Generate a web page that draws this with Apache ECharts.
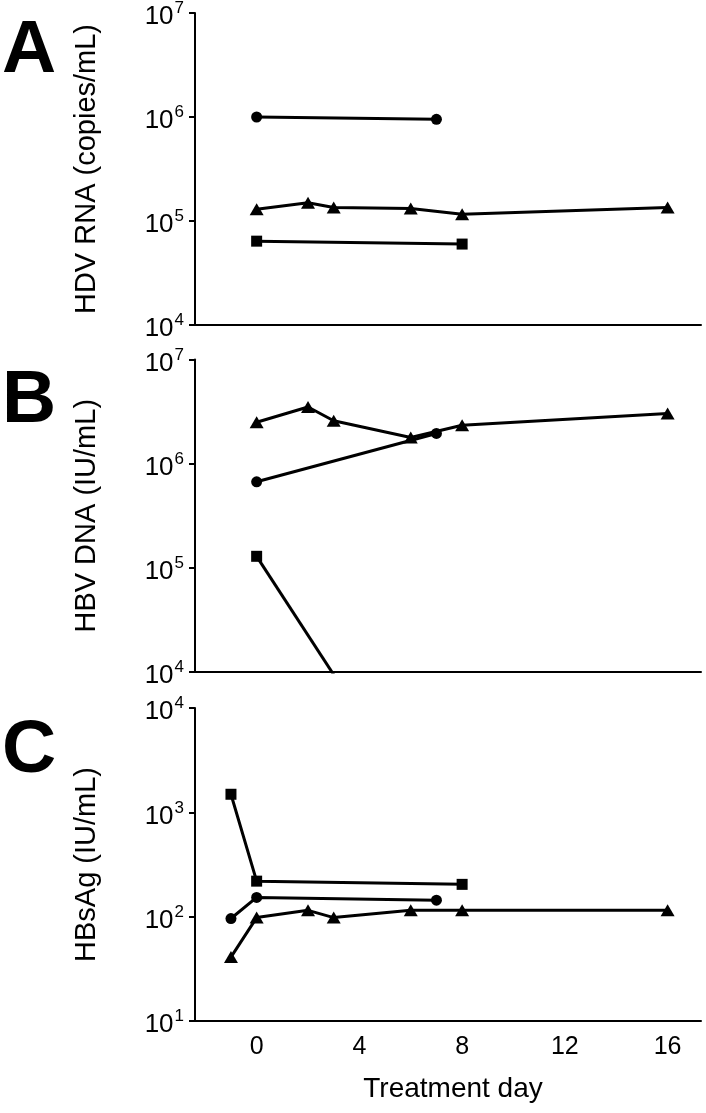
<!DOCTYPE html>
<html>
<head>
<meta charset="utf-8">
<script src="https://cdn.jsdelivr.net/npm/echarts@6/dist/echarts.min.js"></script>
<style>
html,body{margin:0;padding:0;background:#fff;}
#chart{width:706px;height:1113px;}
</style>
</head>
<body>
<div id="chart"></div>
<script>
// ---- Data (Treatment day, value) ----
const xTicks = [0, 4, 8, 12, 16];

// Panel A: HDV RNA (copies/mL)
const aCircleDays = [0, 7];
const aCircleVals = [1.0e6, 9.5e5];
const aTriDays = [0, 2, 3, 6, 8, 16];
const aTriVals = [1.3e5, 1.5e5, 1.35e5, 1.32e5, 1.16e5, 1.35e5];
const aSquareDays = [0, 8];
const aSquareVals = [6.4e4, 6.0e4];

// Panel B: HBV DNA (IU/mL)
const bTriDays = [0, 2, 3, 6, 8, 16];
const bTriVals = [2.5e6, 3.5e6, 2.58e6, 1.78e6, 2.34e6, 3.03e6];
const bCircleDays = [0, 7];
const bCircleVals = [6.7e5, 1.95e6];
const bSquareDays = [0, 8];
const bSquareVals = [1.29e5, 120];

// Panel C: HBsAg (IU/mL)
const cSquareDays = [-1, 0, 8];
const cSquareVals = [1490, 219, 204];
const cCircleDays = [-1, 0, 7];
const cCircleVals = [96, 153, 144];
const cTriDays = [-1, 0, 2, 3, 6, 8, 16];
const cTriVals = [41, 98, 115, 98, 115, 115, 115];

const panelTitles = ['HDV RNA (copies/mL)', 'HBV DNA (IU/mL)', 'HBsAg (IU/mL)'];
const panelLetters = ['A', 'B', 'C'];
const yRanges = [[1e4, 1e7], [1e4, 1e7], [1e1, 1e4]];

function pairs(days, vals) { return days.map((d, i) => [d, vals[i]]); }

const FONT = 'Liberation Sans, Arial, sans-serif';
const grids = [
  {left: 195, right: 5, top: 13, height: 312},
  {left: 195, right: 5, top: 359.5, height: 312.5},
  {left: 195, right: 5, top: 708, height: 313}
];

const xAxes = grids.map((g, i) => ({
  type: 'value', gridIndex: i, min: -2.4, max: 17.3,
  splitLine: {show: false},
  axisLine: {onZero: false, lineStyle: {color: '#000', width: 2}},
  axisTick: {show: false},
  axisLabel: i === 2 ? {
    customValues: xTicks, color: '#000', fontSize: 25, fontFamily: FONT, margin: 14
  } : {show: false},
  name: i === 2 ? 'Treatment day' : '',
  nameLocation: 'middle', nameGap: 54,
  nameTextStyle: {color: '#000', fontSize: 28, fontFamily: FONT, padding: [0, 0, 0, 10]}
}));

const yAxes = grids.map((g, i) => ({
  type: 'log', logBase: 10, gridIndex: i, min: yRanges[i][0], max: yRanges[i][1],
  splitLine: {show: false}, minorTick: {show: false},
  axisLine: {show: true, onZero: false, lineStyle: {color: '#000', width: 2}},
  axisTick: {show: true, inside: false, length: 6, lineStyle: {color: '#000', width: 2}},
  axisLabel: {
    margin: 11, color: '#000',
    formatter: function (v) { return '{b|10}{s|' + Math.round(Math.log10(v)) + '}'; },
    rich: {
      b: {fontSize: 26, fontFamily: FONT, color: '#000', verticalAlign: 'bottom', lineHeight: 26},
      s: {fontSize: 17, fontFamily: FONT, color: '#000', verticalAlign: 'bottom', lineHeight: 17, padding: [0, 0, 13, 1]}
    },
    padding: [8, 0, 0, 0]
  },
  name: panelTitles[i], nameLocation: 'middle', nameRotate: 90, nameGap: 94,
  nameTextStyle: {color: '#000', fontSize: 29, fontFamily: FONT}
}));

function mkSeries(i, days, vals, symbol, size) {
  return {
    type: 'line', xAxisIndex: i, yAxisIndex: i, data: pairs(days, vals),
    symbol: symbol, symbolSize: size, showSymbol: true, clip: true,
    lineStyle: {color: '#000', width: 3},
    itemStyle: {color: '#000'}, animation: false, z: 3
  };
}

const series = [
  mkSeries(0, aCircleDays, aCircleVals, 'circle', 11),
  mkSeries(0, aTriDays, aTriVals, 'triangle', [14, 12]),
  mkSeries(0, aSquareDays, aSquareVals, 'rect', 11),
  mkSeries(1, bTriDays, bTriVals, 'triangle', [14, 12]),
  mkSeries(1, bCircleDays, bCircleVals, 'circle', 11),
  mkSeries(1, bSquareDays, bSquareVals, 'rect', 11),
  mkSeries(2, cSquareDays, cSquareVals, 'rect', 11),
  mkSeries(2, cCircleDays, cCircleVals, 'circle', 11),
  mkSeries(2, cTriDays, cTriVals, 'triangle', [14, 12])
];

const letterTops = [14, 364, 714];
const graphic = panelLetters.map((t, i) => ({
  type: 'text', left: 2, top: letterTops[i],
  style: {text: t, fill: '#000', font: 'bold 75px ' + FONT}
}));

const chart = echarts.init(document.getElementById('chart'), null, {renderer: 'canvas'});
chart.setOption({
  animation: false,
  backgroundColor: '#fff',
  grid: grids,
  xAxis: xAxes,
  yAxis: yAxes,
  series: series,
  graphic: graphic
});
</script>
</body>
</html>
